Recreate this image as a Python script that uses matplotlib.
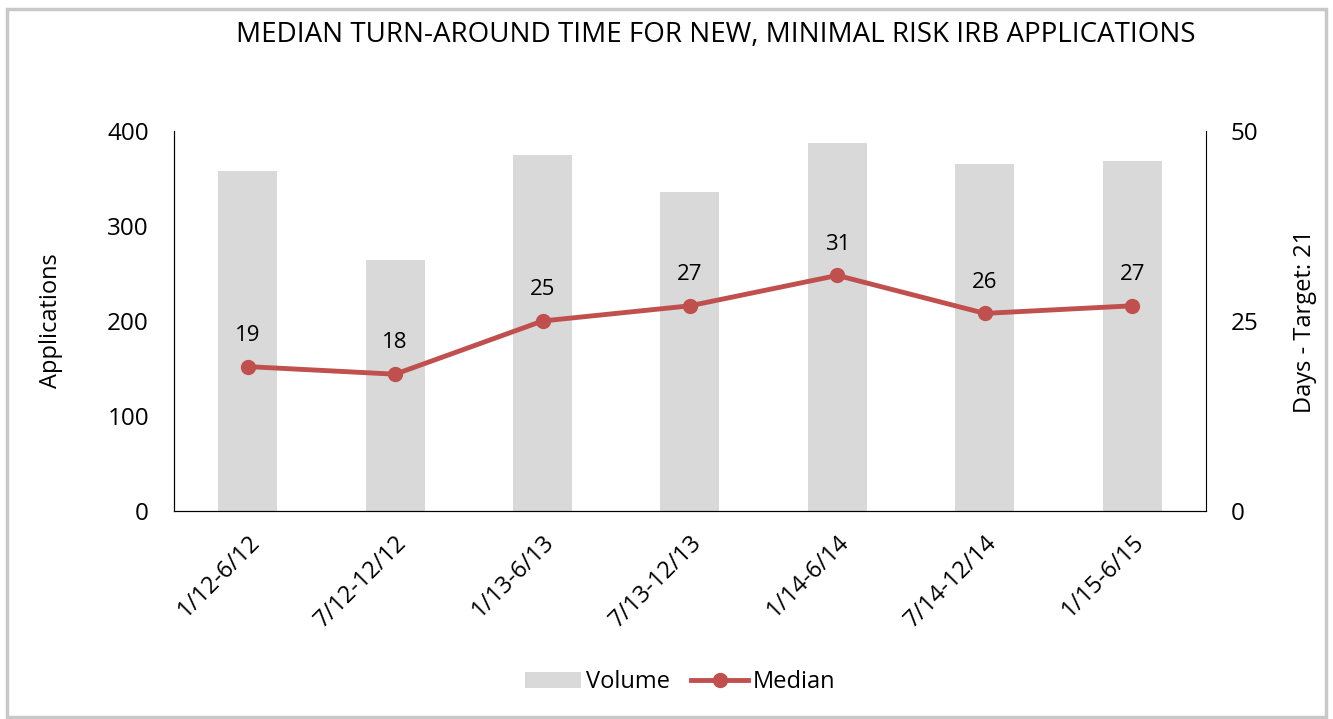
import matplotlib
matplotlib.use('Agg')
import matplotlib.pyplot as plt
import numpy as np
from matplotlib.patches import Rectangle

periods = ['1/12-6/12', '7/12-12/12', '1/13-6/13', '7/13-12/13',
           '1/14-6/14', '7/14-12/14', '1/15-6/15']
volume = [358, 264, 375, 336, 387, 365, 368]
median = [19, 18, 25, 27, 31, 26, 27]

plt.rcParams['font.family'] = ['Open Sans', 'DejaVu Sans']

fig = plt.figure(figsize=(13.33, 7.19), dpi=100)
fig.patches.append(Rectangle((0.005, 0.003), 0.99, 0.985, transform=fig.transFigure,
                             fill=False, edgecolor='#c8c8c8', linewidth=2.5))

ax = fig.add_axes([0.1305, 0.2893, 0.7742, 0.5285])
x = np.arange(len(periods))
bars = ax.bar(x, volume, width=0.4, color='#d9d9d9', label='Volume', zorder=1)
ax.set_ylim(0, 400)
ax.set_yticks([0, 100, 200, 300, 400])
ax.set_xlim(-0.5, len(periods) - 0.5)
ax.set_xticks(x)
ax.set_xticklabels(periods, rotation=45, ha='right', rotation_mode='anchor')
ax.tick_params(axis='y', length=0, labelsize=17.5, pad=18)
ax.tick_params(axis='x', length=0, labelsize=17, pad=14)
ax.set_ylabel('Applications', fontsize=17, labelpad=32)
ax.spines['top'].set_visible(False)
ax.spines['right'].set_visible(False)

ax2 = ax.twinx()
line, = ax2.plot(x, median, color='#c0504d', linewidth=3.5, marker='o',
                 markersize=10, label='Median', zorder=3)
ax2.set_ylim(0, 50)
ax2.set_yticks([0, 25, 50])
ax2.tick_params(axis='y', length=0, labelsize=17.5, pad=18)
ax2.set_ylabel('Days - Target: 21', fontsize=17, labelpad=25)
ax2.spines['top'].set_visible(False)
for xi, m in zip(x, median):
    ax2.annotate(str(m), (xi, m), xytext=(0, 15), textcoords='offset points',
                 ha='center', va='bottom', fontsize=16)

fig.text(0.537, 0.951, 'MEDIAN TURN-AROUND TIME FOR NEW, MINIMAL RISK IRB APPLICATIONS',
         ha='center', va='center', fontsize=20)

fig.legend([bars, line], ['Volume', 'Median'], loc='center', bbox_to_anchor=(0.51, 0.051),
           ncol=2, frameon=False, fontsize=17, handlelength=2.4, columnspacing=0.9,
           handletextpad=0.2)

fig.savefig('out.png', dpi=100)
plt.close()
